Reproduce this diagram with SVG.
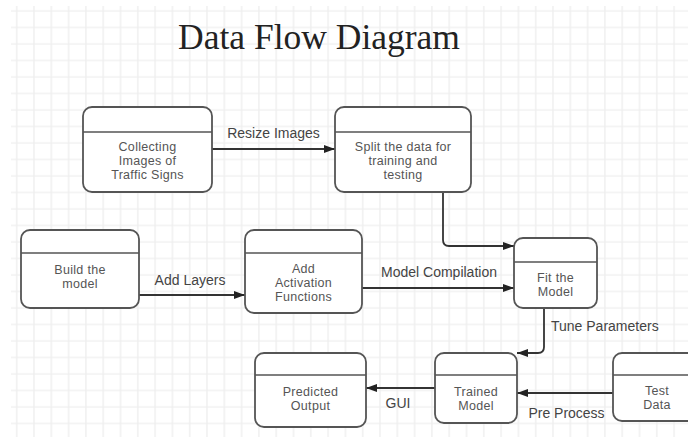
<svg xmlns="http://www.w3.org/2000/svg" width="688" height="439" viewBox="0 0 688 439">
  <defs>
    <pattern id="grid" x="11" y="6" width="17.3" height="16.5" patternUnits="userSpaceOnUse">
      <path d="M5.7 0 V16.5 M0 5 H17.3" fill="none" stroke="#efefef" stroke-width="1.4"/>
    </pattern>
    <marker id="arrow" viewBox="0 0 11 8" refX="11" refY="4" markerWidth="11" markerHeight="8" markerUnits="userSpaceOnUse" orient="auto">
      <path d="M0,0 L11,4 L0,8 z" fill="#222"/>
    </marker>
    <style>
      .box { fill: #ffffff; stroke: #555; stroke-width: 1.8; }
      .hdr { stroke: #555; stroke-width: 1.6; }
      .node-text { font-family: "Liberation Sans", Arial, sans-serif; font-size: 12.5px; letter-spacing: 0.3px; fill: #555; text-anchor: middle; }
      .edge { fill: none; stroke: #333; stroke-width: 1.8; marker-end: url(#arrow); }
      .edge-label { font-family: "Liberation Sans", Arial, sans-serif; font-size: 14px; fill: #444; }
      .title { font-family: "Liberation Serif", "Times New Roman", serif; font-size: 35.5px; fill: #222; text-anchor: middle; }
    </style>
  </defs>

  <!-- canvas with background grid -->
  <rect width="688" height="439" fill="#ffffff"/>
  <rect x="11" y="6" width="677" height="431" fill="url(#grid)"/>

  <text class="title" x="319" y="49">Data Flow Diagram</text>

  <!-- connectors -->
  <g id="connectors">
    <path class="edge" d="M212 149 H335"/>
    <text class="edge-label" x="273.5" y="138" text-anchor="middle">Resize Images</text>

    <path class="edge" d="M443 192 V240 Q443 246 449 246 H514"/>

    <path class="edge" d="M139 295 H245"/>
    <text class="edge-label" x="190" y="285" text-anchor="middle">Add Layers</text>

    <path class="edge" d="M362 288 H514"/>
    <text class="edge-label" x="439" y="277" text-anchor="middle">Model Compilation</text>

    <path class="edge" d="M544 308 V347 Q544 353 538 353 H517"/>
    <text class="edge-label" x="551" y="331">Tune Parameters</text>

    <path class="edge" d="M435 388 H366"/>
    <text class="edge-label" x="398" y="408" text-anchor="middle">GUI</text>

    <path class="edge" d="M613 393 H517"/>
    <text class="edge-label" x="566.5" y="418" text-anchor="middle">Pre Process</text>
  </g>

  <!-- process nodes -->
  <g id="collecting-images">
    <rect class="box" x="83" y="107" width="129" height="85" rx="9"/>
    <line class="hdr" x1="83" y1="132" x2="212" y2="132"/>
    <text class="node-text" x="147.5" y="150.5">Collecting</text>
    <text class="node-text" x="147.5" y="164.5">Images of</text>
    <text class="node-text" x="147.5" y="178.5">Traffic Signs</text>
  </g>

  <g id="split-data">
    <rect class="box" x="335" y="107" width="136" height="85" rx="9"/>
    <line class="hdr" x1="335" y1="132" x2="471" y2="132"/>
    <text class="node-text" x="403" y="151">Split the data for</text>
    <text class="node-text" x="403" y="165">training and</text>
    <text class="node-text" x="403" y="179">testing</text>
  </g>

  <g id="build-model">
    <rect class="box" x="21" y="230" width="118" height="78" rx="9"/>
    <line class="hdr" x1="21" y1="253" x2="139" y2="253"/>
    <text class="node-text" x="80" y="273.5">Build the</text>
    <text class="node-text" x="80" y="287.5">model</text>
  </g>

  <g id="activation-functions">
    <rect class="box" x="245" y="230" width="117" height="83" rx="9"/>
    <line class="hdr" x1="245" y1="253" x2="362" y2="253"/>
    <text class="node-text" x="303.5" y="273">Add</text>
    <text class="node-text" x="303.5" y="287">Activation</text>
    <text class="node-text" x="303.5" y="301">Functions</text>
  </g>

  <g id="fit-model">
    <rect class="box" x="514" y="238" width="83" height="70" rx="9"/>
    <line class="hdr" x1="514" y1="262" x2="597" y2="262"/>
    <text class="node-text" x="555.5" y="281.5">Fit the</text>
    <text class="node-text" x="555.5" y="295.5">Model</text>
  </g>

  <g id="predicted-output">
    <rect class="box" x="255" y="353" width="111" height="74" rx="9"/>
    <line class="hdr" x1="255" y1="375" x2="366" y2="375"/>
    <text class="node-text" x="310.5" y="396">Predicted</text>
    <text class="node-text" x="310.5" y="410">Output</text>
  </g>

  <g id="trained-model">
    <rect class="box" x="435" y="353" width="82" height="70" rx="9"/>
    <line class="hdr" x1="435" y1="375" x2="517" y2="375"/>
    <text class="node-text" x="476" y="396">Trained</text>
    <text class="node-text" x="476" y="410">Model</text>
  </g>

  <g id="test-data">
    <rect class="box" x="613" y="353" width="90" height="68" rx="9"/>
    <line class="hdr" x1="613" y1="375" x2="703" y2="375"/>
    <text class="node-text" x="657" y="394.5">Test</text>
    <text class="node-text" x="657" y="408.5">Data</text>
  </g>
</svg>
